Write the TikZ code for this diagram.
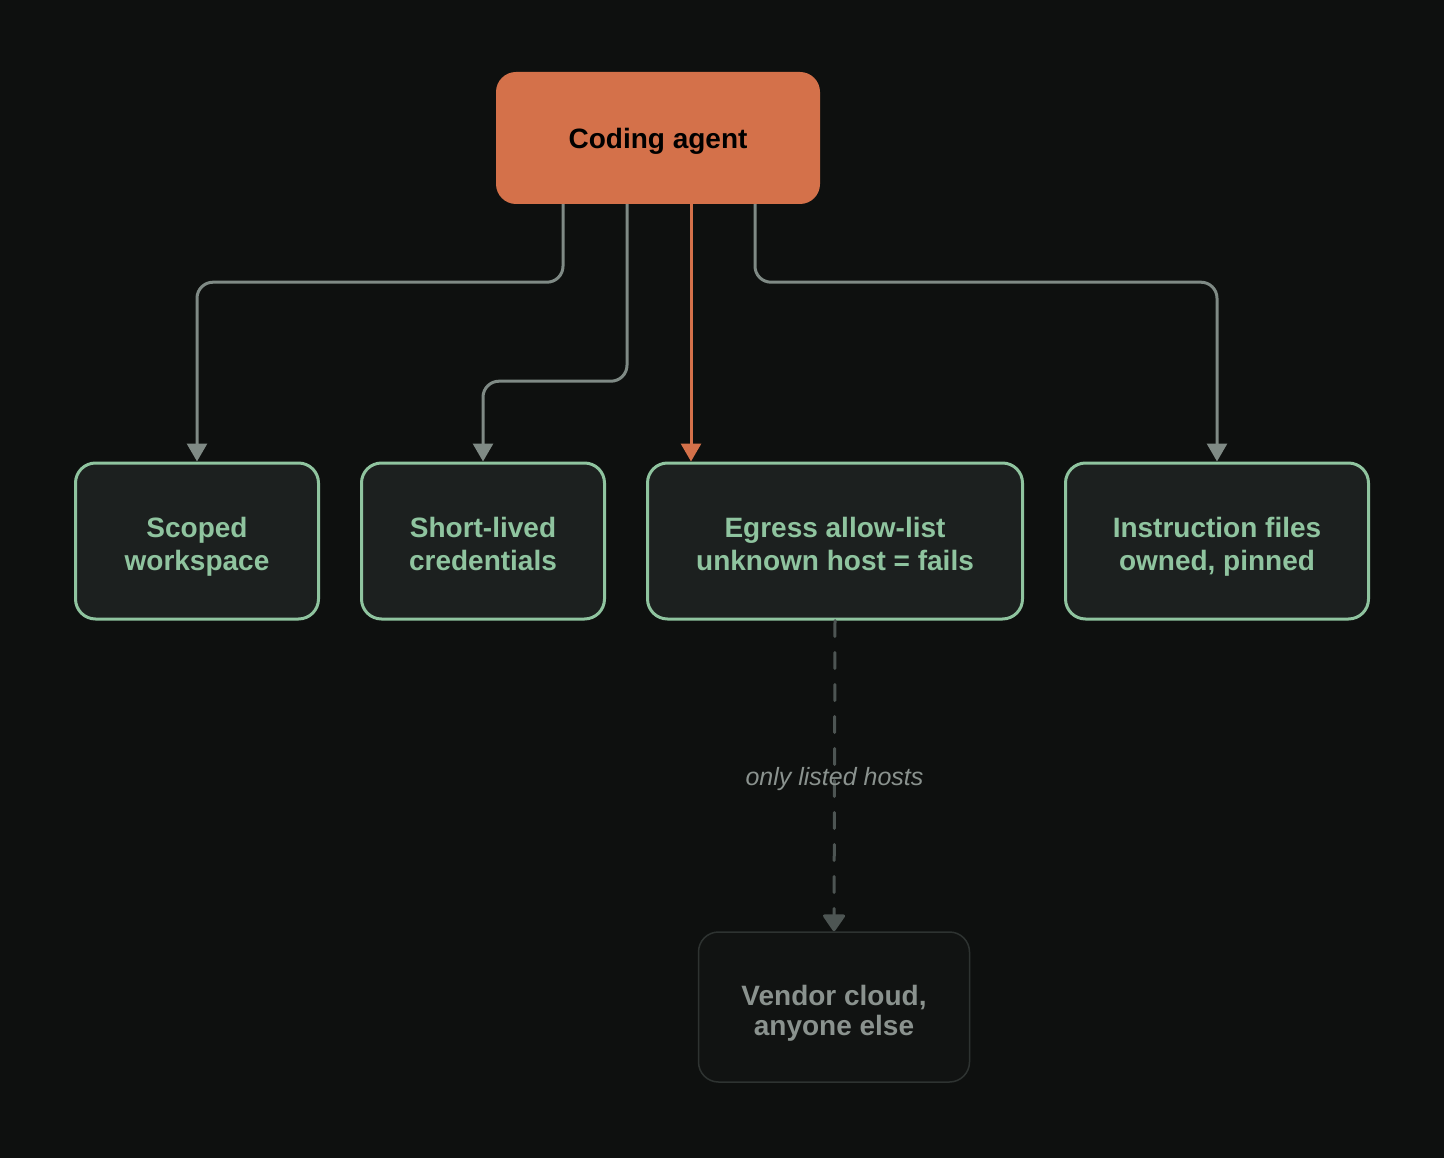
\documentclass[tikz,border=0pt]{standalone}
\usepackage{fontspec}
\setmainfont{Liberation Sans}
\usetikzlibrary{arrows.meta}
\definecolor{bgdark}{HTML}{0E100F}
\definecolor{agentorange}{HTML}{D4714A}
\definecolor{boxgreen}{HTML}{8FC49F}
\definecolor{boxfill}{HTML}{1C201F}
\definecolor{wiregray}{HTML}{7F8A85}
\definecolor{dashgray}{HTML}{4D5553}
\definecolor{vendorline}{HTML}{2E3331}
\definecolor{vendorfill}{HTML}{111312}
\definecolor{vendortext}{HTML}{8A928E}
\begin{document}
\begin{tikzpicture}[x=1pt, y=-1pt,
	guard/.style={draw=boxgreen, fill=boxfill, line width=3pt, rounded corners=20pt,
		minimum height=156pt, inner sep=0pt, align=center, text=boxgreen,
		font=\fontsize{28}{33}\selectfont\bfseries, text height=62pt, text depth=4pt},
	wire/.style={draw=wiregray, line width=3pt, rounded corners=16pt,
		-{Triangle[width=20pt,length=18pt]}}]
	\useasboundingbox[fill=bgdark] (0, 0) rectangle (1444, 1158);
	\node[fill=agentorange, rounded corners=20pt, minimum width=324pt, minimum height=132pt,
		font=\fontsize{28}{34}\selectfont\bfseries, text=black, text height=24pt, text depth=3pt]
		(agent) at (658, 138) {Coding agent};
	\node[guard, minimum width=243pt] (workspace) at (197, 541) {Scoped\\workspace};
	\node[guard, minimum width=243pt] (creds) at (483, 541) {Short-lived\\credentials};
	\node[guard, minimum width=375pt] (egress) at (835, 541) {Egress allow-list\\unknown host = fails};
	\node[guard, minimum width=303pt] (instr) at (1217, 541) {Instruction files\\owned, pinned};
	\node[draw=vendorline, fill=vendorfill, line width=1.5pt, rounded corners=20pt,
		minimum width=271pt, minimum height=150pt, inner sep=0pt, align=center, text=vendortext,
		font=\fontsize{28}{30}\selectfont\bfseries, text height=60pt, text depth=4pt]
		(vendor) at (834, 1007) {Vendor cloud,\\anyone else};
	% agent to the four guards
	\draw[wire] ([xshift=-95pt]agent.south) -- ++(0, 78) -| (workspace.north);
	\draw[wire] ([xshift=-31pt]agent.south) -- ++(0, 177) -| (creds.north);
	\draw[wire, draw=agentorange] ([xshift=33pt]agent.south) -- ([xshift=-144pt]egress.north);
	\draw[wire] ([xshift=97pt]agent.south) -- ++(0, 78) -| (instr.north);
	% egress out to vendor
	\draw[draw=dashgray, line width=3pt, line cap=round, dash pattern=on 16pt off 16pt,
		-{Triangle[width=24pt,length=18pt,round]}] (egress.south) -- (vendor.north)
		node[pos=0.51, text=vendortext, font=\fontsize{25}{28}\selectfont\itshape] (only) {only listed hosts};
\end{tikzpicture}
\end{document}
